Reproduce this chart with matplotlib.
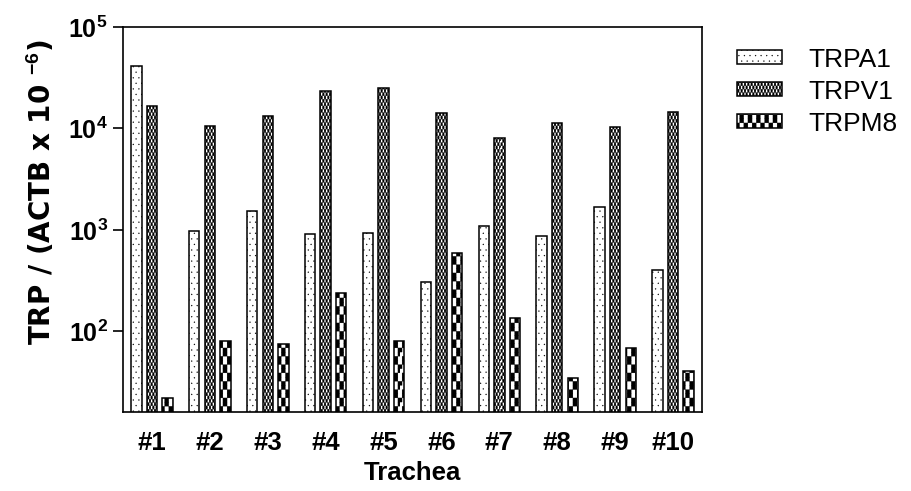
import numpy as np
import matplotlib
matplotlib.use("Agg")
import matplotlib.pyplot as plt
import matplotlib.hatch as mhatch
from matplotlib.path import Path
from matplotlib.ticker import FixedLocator, FuncFormatter, NullLocator

samples = ["#1", "#2", "#3", "#4", "#5", "#6", "#7", "#8", "#9", "#10"]
trpa1 = [41600, 980, 1550, 920, 935, 305, 1090, 866, 1690, 398]
trpv1 = [16800, 10650, 13200, 23200, 24900, 14300, 8100, 11250, 10400, 14650]
trpm8 = [22, 81, 75, 238, 81, 590, 135, 35, 68, 41]


# checkerboard hatch ('*' is taken over, stars are not needed here)
class Checker(mhatch.Shapes):
    filled = True
    size = 1.0

    def __init__(self, hatch, density):
        self.num_rows = hatch.count("*") * density
        sq = [[-.25, -.25], [.25, -.25], [.25, .25], [-.25, .25], [-.25, -.25]]
        self.shape_vertices = np.array(sq + [[x + .5, y + .5] for x, y in sq])
        self.shape_codes = np.array([Path.MOVETO, Path.LINETO, Path.LINETO,
                                     Path.LINETO, Path.CLOSEPOLY] * 2,
                                    dtype=Path.code_type)
        super().__init__(hatch, density)


mhatch._hatch_types[:] = [h for h in mhatch._hatch_types if h is not mhatch.Stars] + [Checker]

plt.rcParams["font.family"] = ["Liberation Sans", "DejaVu Sans"]
plt.rcParams["mathtext.fontset"] = "custom"
plt.rcParams["mathtext.rm"] = "Liberation Sans"
plt.rcParams["mathtext.bf"] = "Liberation Sans:bold"
plt.rcParams["hatch.linewidth"] = 0.15
plt.rcParams["hatch.color"] = "black"

fig = plt.figure(figsize=(9.12, 4.91), dpi=100)
ax = fig.add_axes([123 / 912, 1 - 412 / 491, 579 / 912, 385 / 491])

x = np.arange(len(samples))
w = 0.18
step = 0.27
ax.bar(x - step, trpa1, w, facecolor="white", edgecolor="black", linewidth=1.1,
       hatch="...", label="TRPA1")
ax.bar(x, trpv1, w, facecolor="white", edgecolor="black", linewidth=1.1,
       hatch="*****", label="TRPV1")
ax.bar(x + step, trpm8, w, facecolor="white", edgecolor="black", linewidth=1.1,
       hatch="**", label="TRPM8")

ax.set_yscale("log")
ax.set_ylim(16, 1e5)
ax.set_xlim(-0.5, len(samples) - 0.5)
ax.yaxis.set_major_locator(FixedLocator([1e2, 1e3, 1e4, 1e5]))
ax.yaxis.set_minor_locator(NullLocator())
ax.yaxis.set_major_formatter(FuncFormatter(lambda v, p: r"$\mathbf{10^{%d}}$" % round(np.log10(v))))
ax.tick_params(axis="y", length=7, width=1.2, labelsize=18, pad=4)
ax.set_xticks(x)
ax.set_xticklabels(samples, fontsize=18.5, fontweight="bold")
ax.tick_params(axis="x", length=0, pad=14)
for s in ax.spines.values():
    s.set_linewidth(1.2)

ax.set_xlabel("Trachea", fontsize=18.5, fontweight="bold", labelpad=4)
fig.text(41 / 912, 1 - 192 / 491, r"TRP / (ACTB x 10 $^{\mathbf{-6}}$)",
         rotation=90, ha="center", va="center", fontsize=20, fontweight="bold",
         family="DejaVu Sans")

fig.legend(loc="upper left", bbox_to_anchor=(713 / 912, 1 - 24 / 491), frameon=False,
           fontsize=19, handlelength=1.7, handleheight=0.45, handletextpad=1.0,
           labelspacing=0.3)

fig.savefig("out.png", dpi=100)
